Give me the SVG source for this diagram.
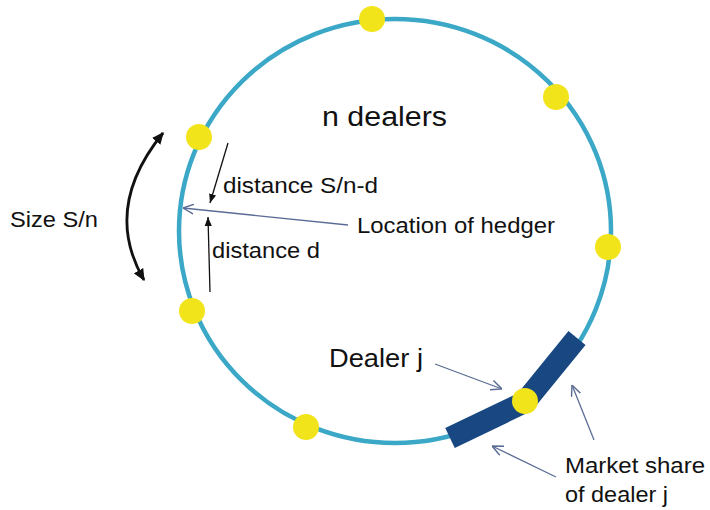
<svg xmlns="http://www.w3.org/2000/svg" width="710" height="510" viewBox="0 0 710 510">
<style>
.ring{fill:none;stroke:#3aa8c6;stroke-width:4.5}
.dot{fill:#f2e41a}
.bar{fill:none;stroke:#184781;stroke-width:22;stroke-linejoin:miter;stroke-linecap:butt}
.lbl{font-family:"Liberation Sans",Arial,sans-serif;fill:#111;font-size:22px}
.thin{fill:none;stroke:#5a6c95;stroke-width:1.3}
.blk{fill:none;stroke:#111;stroke-width:1.3}
.big{fill:none;stroke:#111;stroke-width:2.8}
</style>
<defs>
<marker id="open" viewBox="0 0 10 10" refX="10" refY="5" markerWidth="11" markerHeight="11" markerUnits="userSpaceOnUse" orient="auto">
<path d="M0,0.5 L10,5 L0,9.5" fill="none" stroke="#5a6c95" stroke-width="1.3"/>
</marker>
<marker id="tri" viewBox="0 0 10 10" refX="10" refY="5" markerWidth="9" markerHeight="9" markerUnits="userSpaceOnUse" orient="auto">
<path d="M0,1 L10,5 L0,9 Z" fill="#111"/>
</marker>
<marker id="bigtri" viewBox="0 0 10 10" refX="9" refY="5" markerWidth="12" markerHeight="12" markerUnits="userSpaceOnUse" orient="auto-start-reverse">
<path d="M0,0.5 L10,5 L0,9.5 Z" fill="#111"/>
</marker>
</defs>
<rect width="710" height="510" fill="#fff"/>
<g id="ring">
<ellipse class="ring" cx="395" cy="231" rx="216" ry="212"/>
</g>
<g id="market-share-bar">
<polyline class="bar" points="450,438 525,402 577,338"/>
</g>
<g id="dealers">
<circle class="dot" cx="372" cy="19" r="13"/>
<circle class="dot" cx="556" cy="97" r="13"/>
<circle class="dot" cx="608" cy="247" r="13"/>
<circle class="dot" cx="199" cy="137" r="13"/>
<circle class="dot" cx="192" cy="311" r="13"/>
<circle class="dot" cx="306" cy="427" r="13"/>
<circle class="dot" cx="525" cy="401" r="13"/>
</g>
<g id="connectors">
<path class="big" d="M163,133 Q102,208 144,280" marker-start="url(#bigtri)" marker-end="url(#bigtri)"/>
<path class="blk" d="M228,143 Q220,170 210,203" marker-end="url(#tri)"/>
<line class="blk" x1="210" y1="292" x2="208" y2="217" marker-end="url(#tri)"/>
<line class="thin" x1="348" y1="225" x2="183" y2="208" marker-end="url(#open)"/>
<line class="thin" x1="435" y1="364" x2="502" y2="389" marker-end="url(#open)"/>
<line class="thin" x1="594" y1="440" x2="572" y2="385" marker-end="url(#open)"/>
<line class="thin" x1="556" y1="477" x2="492" y2="446" marker-end="url(#open)"/>
</g>
<g id="labels">
<text class="lbl" x="322" y="126" font-size="27" textLength="125" lengthAdjust="spacingAndGlyphs" style="font-size:27px">n dealers</text>
<text class="lbl" x="10" y="227" textLength="88" lengthAdjust="spacingAndGlyphs">Size S/n</text>
<text class="lbl" x="223" y="193" textLength="155" lengthAdjust="spacingAndGlyphs">distance S/n-d</text>
<text class="lbl" x="357" y="233" textLength="198" lengthAdjust="spacingAndGlyphs">Location of hedger</text>
<text class="lbl" x="212" y="258" textLength="108" lengthAdjust="spacingAndGlyphs">distance d</text>
<text class="lbl" x="329" y="367" textLength="94" lengthAdjust="spacingAndGlyphs" style="font-size:25px">Dealer j</text>
<text class="lbl" x="565" y="473" textLength="140" lengthAdjust="spacingAndGlyphs">Market share</text>
<text class="lbl" x="565" y="502" textLength="103" lengthAdjust="spacingAndGlyphs">of dealer j</text>
</g>
</svg>
